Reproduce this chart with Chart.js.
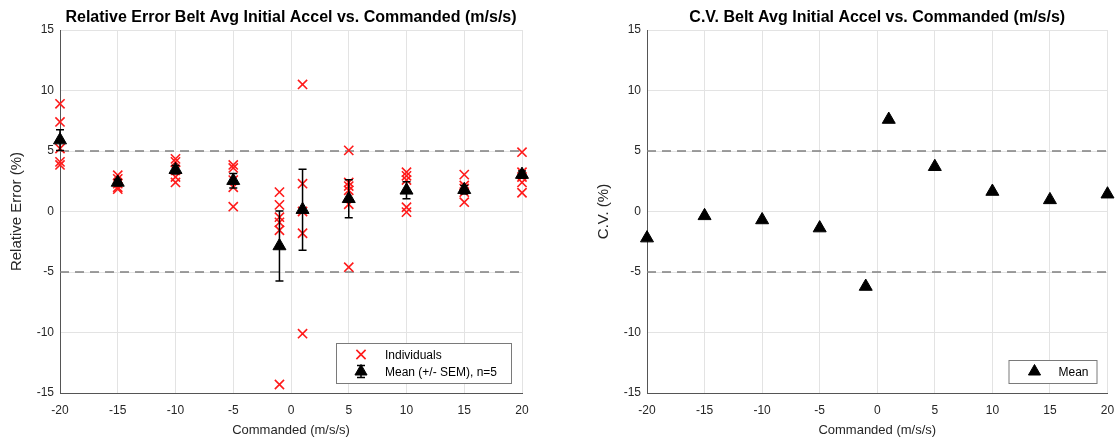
<!DOCTYPE html>
<html>
<head>
<meta charset="utf-8">
<script src="https://cdn.jsdelivr.net/npm/chart.js@4.4.1/dist/chart.umd.min.js"></script>
<style>
  html, body { margin: 0; padding: 0; background: #ffffff; }
  #wrap { position: relative; width: 1116px; height: 440px; }
  #leftChart { position: absolute; left: 0; top: 0; }
  #rightChart { position: absolute; left: 558px; top: 0; }
</style>
</head>
<body>
<div id="wrap">
  <canvas id="leftChart" width="558" height="440"></canvas>
  <canvas id="rightChart" width="558" height="440"></canvas>
</div>
<script>
// Commanded accelerations (m/s/s)
const commanded = [-20, -15, -10, -5, -1, 1, 5, 10, 15, 20]

// Relative error of each run (%), one list per commanded value
const individuals = [
    [8.9, 7.4, 5.2, 4.1, 3.85],
    [3.0, 2.7, 2.3, 2.0, 1.85],
    [4.35, 4.1, 3.4, 2.85, 2.4],
    [3.85, 3.6, 2.6, 2.0, 0.4],
    [1.6, 0.55, -0.47, -0.9, -1.55, -14.3],
    [10.5, 2.3, 0.0, -1.8, -10.1],
    [5.05, 2.4, 2.1, 1.75, 0.6, -4.6],
    [3.25, 2.95, 2.6, 0.35, -0.05],
    [3.05, 2.15, 1.9, 1.6, 0.77],
    [4.9, 3.25, 2.85, 2.4, 1.55]
]

// Mean relative error (%) and its standard error
const meanError = [5.9, 2.4, 3.45, 2.55, -2.85, 0.15, 1.05, 1.75, 1.8, 3.05]
const semError = [0.85, 0.25, 0.35, 0.6, 2.9, 3.35, 1.57, 0.7, 0.35, 0.3]

// Coefficient of variation (%)
const cvMean = [-2.2, -0.36, -0.7, -1.37, -6.2, 7.6, 3.7, 1.65, 0.96, 1.43]

// Tolerance band (%)
const tolerance = [5, -5]

const xTicks = [-20, -15, -10, -5, 0, 5, 10, 15, 20]
const yTicks = [-15, -10, -5, 0, 5, 10, 15]

const FONT = 'Liberation Sans, Arial, Helvetica, sans-serif'
const TEXT_COLOR = '#262626'
const GRID_COLOR = '#e3e3e3'
const AXIS_COLOR = '#555555'

function toleranceDatasets() {
    return tolerance.map(level => ({
        type: 'line',
        data: [{ x: xTicks[0], y: level }, { x: xTicks[xTicks.length - 1], y: level }],
        borderColor: '#808080',
        borderWidth: 1.3,
        borderDash: [9, 6],
        pointRadius: 0,
        order: 3
    }))
}

function scaleOptions(yLabel) {
    return {
        x: {
            type: 'linear',
            min: xTicks[0],
            max: xTicks[xTicks.length - 1],
            afterBuildTicks: scale => { scale.ticks = xTicks.map(v => ({ value: v })) },
            afterFit: scale => {
                scale.height = 47
                scale.paddingLeft = 0
                scale.paddingRight = 0
            },
            grid: { color: GRID_COLOR, tickLength: 0 },
            border: { color: AXIS_COLOR, width: 1 },
            ticks: { color: TEXT_COLOR, font: { family: FONT, size: 12 }, padding: 10, maxRotation: 0 },
            title: { display: true, text: 'Commanded (m/s/s)', color: TEXT_COLOR, font: { family: FONT, size: 13 }, padding: { top: 1, bottom: 2 } }
        },
        y: {
            type: 'linear',
            min: yTicks[0],
            max: yTicks[yTicks.length - 1],
            afterBuildTicks: scale => { scale.ticks = yTicks.map(v => ({ value: v })) },
            afterFit: scale => { scale.width = 60 },
            grid: { color: GRID_COLOR, tickLength: 0 },
            border: { color: AXIS_COLOR, width: 1 },
            ticks: { color: TEXT_COLOR, font: { family: FONT, size: 12 }, padding: 6 },
            title: { display: true, text: yLabel, color: TEXT_COLOR, font: { family: FONT, size: 15 }, padding: { top: 8, bottom: 0 } }
        }
    }
}

// Bold title centred over the plot area
function titlePlugin(text) {
    return {
        id: 'plotTitle',
        afterDraw(chart) {
            const { ctx, chartArea } = chart
            ctx.save()
            ctx.fillStyle = '#000000'
            ctx.font = 'bold 16px ' + FONT
            ctx.textAlign = 'center'
            ctx.textBaseline = 'middle'
            ctx.fillText(text, (chartArea.left + chartArea.right) / 2, 18)
            ctx.restore()
        }
    }
}

// Vertical error bars with caps, drawn through the chart scales
const errorBarPlugin = {
    id: 'errorBars',
    afterDatasetsDraw(chart) {
        const { ctx, scales } = chart
        ctx.save()
        ctx.strokeStyle = '#000000'
        ctx.lineWidth = 1.5
        commanded.forEach((c, i) => {
            const px = scales.x.getPixelForValue(c)
            const top = scales.y.getPixelForValue(meanError[i] + semError[i])
            const bottom = scales.y.getPixelForValue(meanError[i] - semError[i])
            ctx.beginPath()
            ctx.moveTo(px, top)
            ctx.lineTo(px, bottom)
            ctx.moveTo(px - 4, top)
            ctx.lineTo(px + 4, top)
            ctx.moveTo(px - 4, bottom)
            ctx.lineTo(px + 4, bottom)
            ctx.stroke()
        })
        ctx.restore()
    }
}

// MATLAB style legend box in the lower right of the plot area
function legendPlugin(entries, boxWidth) {
    return {
        id: 'boxLegend',
        afterDraw(chart) {
            const { ctx, chartArea } = chart
            const rowHeight = 17
            const boxHeight = entries.length * rowHeight + 6
            const right = chartArea.right - 11
            const bottom = chartArea.bottom - 10
            const left = right - boxWidth
            const top = bottom - boxHeight
            ctx.save()
            ctx.fillStyle = '#ffffff'
            ctx.fillRect(left, top, boxWidth, boxHeight)
            ctx.strokeStyle = '#7a7a7a'
            ctx.lineWidth = 1
            ctx.strokeRect(left + 0.5, top + 0.5, boxWidth, boxHeight)
            entries.forEach((entry, i) => {
                const cy = top + 3 + rowHeight * i + rowHeight / 2
                const mx = left + entry.markerX
                if (entry.errorBar) {
                    ctx.strokeStyle = '#000000'
                    ctx.lineWidth = 1.5
                    ctx.beginPath()
                    ctx.moveTo(mx, cy - 6)
                    ctx.lineTo(mx, cy + 6)
                    ctx.moveTo(mx - 4, cy - 6)
                    ctx.lineTo(mx + 4, cy - 6)
                    ctx.moveTo(mx - 4, cy + 6)
                    ctx.lineTo(mx + 4, cy + 6)
                    ctx.stroke()
                }
                ctx.fillStyle = entry.fill
                ctx.strokeStyle = entry.stroke
                ctx.lineWidth = entry.lineWidth
                Chart.helpers.drawPoint(ctx, { pointStyle: entry.style, radius: entry.radius, borderWidth: entry.lineWidth }, mx, cy)
                ctx.fillStyle = '#000000'
                ctx.font = '12px ' + FONT
                ctx.textBaseline = 'middle'
                ctx.fillText(entry.label, left + entry.textX, cy + 1)
            })
            ctx.restore()
        }
    }
}

const individualPoints = []
commanded.forEach((c, i) => {
    individuals[i].forEach(v => individualPoints.push({ x: c, y: v }))
})

new Chart(document.getElementById('leftChart'), {
    type: 'scatter',
    data: {
        datasets: [{
            label: 'Mean (+/- SEM), n=5',
            data: commanded.map((c, i) => ({ x: c, y: meanError[i] })),
            pointStyle: 'triangle',
            pointRadius: 7.5,
            backgroundColor: '#000000',
            borderColor: '#000000',
            borderWidth: 1,
            clip: false,
            order: 1
        }, {
            label: 'Individuals',
            data: individualPoints,
            pointStyle: 'crossRot',
            pointRadius: 6.5,
            borderColor: '#ff1a1a',
            borderWidth: 1.6,
            clip: false,
            order: 2
        }, ...toleranceDatasets()]
    },
    options: {
        responsive: false,
        animation: false,
        layout: { padding: { left: 0, right: 36, top: 30, bottom: 0 } },
        scales: scaleOptions('Relative Error (%)'),
        plugins: {
            title: { display: false },
            legend: { display: false },
            tooltip: { enabled: false }
        }
    },
    plugins: [errorBarPlugin, titlePlugin('Relative Error Belt Avg Initial Accel vs. Commanded (m/s/s)'), legendPlugin([
        { label: 'Individuals', style: 'crossRot', radius: 6.5, fill: '#ff1a1a', stroke: '#ff1a1a', lineWidth: 1.6, markerX: 25, textX: 49 },
        { label: 'Mean (+/- SEM), n=5', style: 'triangle', radius: 7, fill: '#000000', stroke: '#000000', lineWidth: 1, markerX: 25, textX: 49, errorBar: true }
    ], 175)]
})

new Chart(document.getElementById('rightChart'), {
    type: 'scatter',
    data: {
        datasets: [{
            label: 'Mean',
            data: commanded.map((c, i) => ({ x: c, y: cvMean[i] })),
            pointStyle: 'triangle',
            pointRadius: 7.5,
            backgroundColor: '#000000',
            borderColor: '#000000',
            borderWidth: 1,
            clip: false,
            order: 1
        }, ...toleranceDatasets()]
    },
    options: {
        responsive: false,
        animation: false,
        layout: { padding: { left: 29, right: 8, top: 30, bottom: 0 } },
        scales: scaleOptions('C.V. (%)'),
        plugins: {
            title: { display: false },
            legend: { display: false },
            tooltip: { enabled: false }
        }
    },
    plugins: [titlePlugin('C.V. Belt Avg Initial Accel vs. Commanded (m/s/s)'), legendPlugin([
        { label: 'Mean', style: 'triangle', radius: 7, fill: '#000000', stroke: '#000000', lineWidth: 1, markerX: 26, textX: 50 }
    ], 88)]
})
</script>
</body>
</html>
